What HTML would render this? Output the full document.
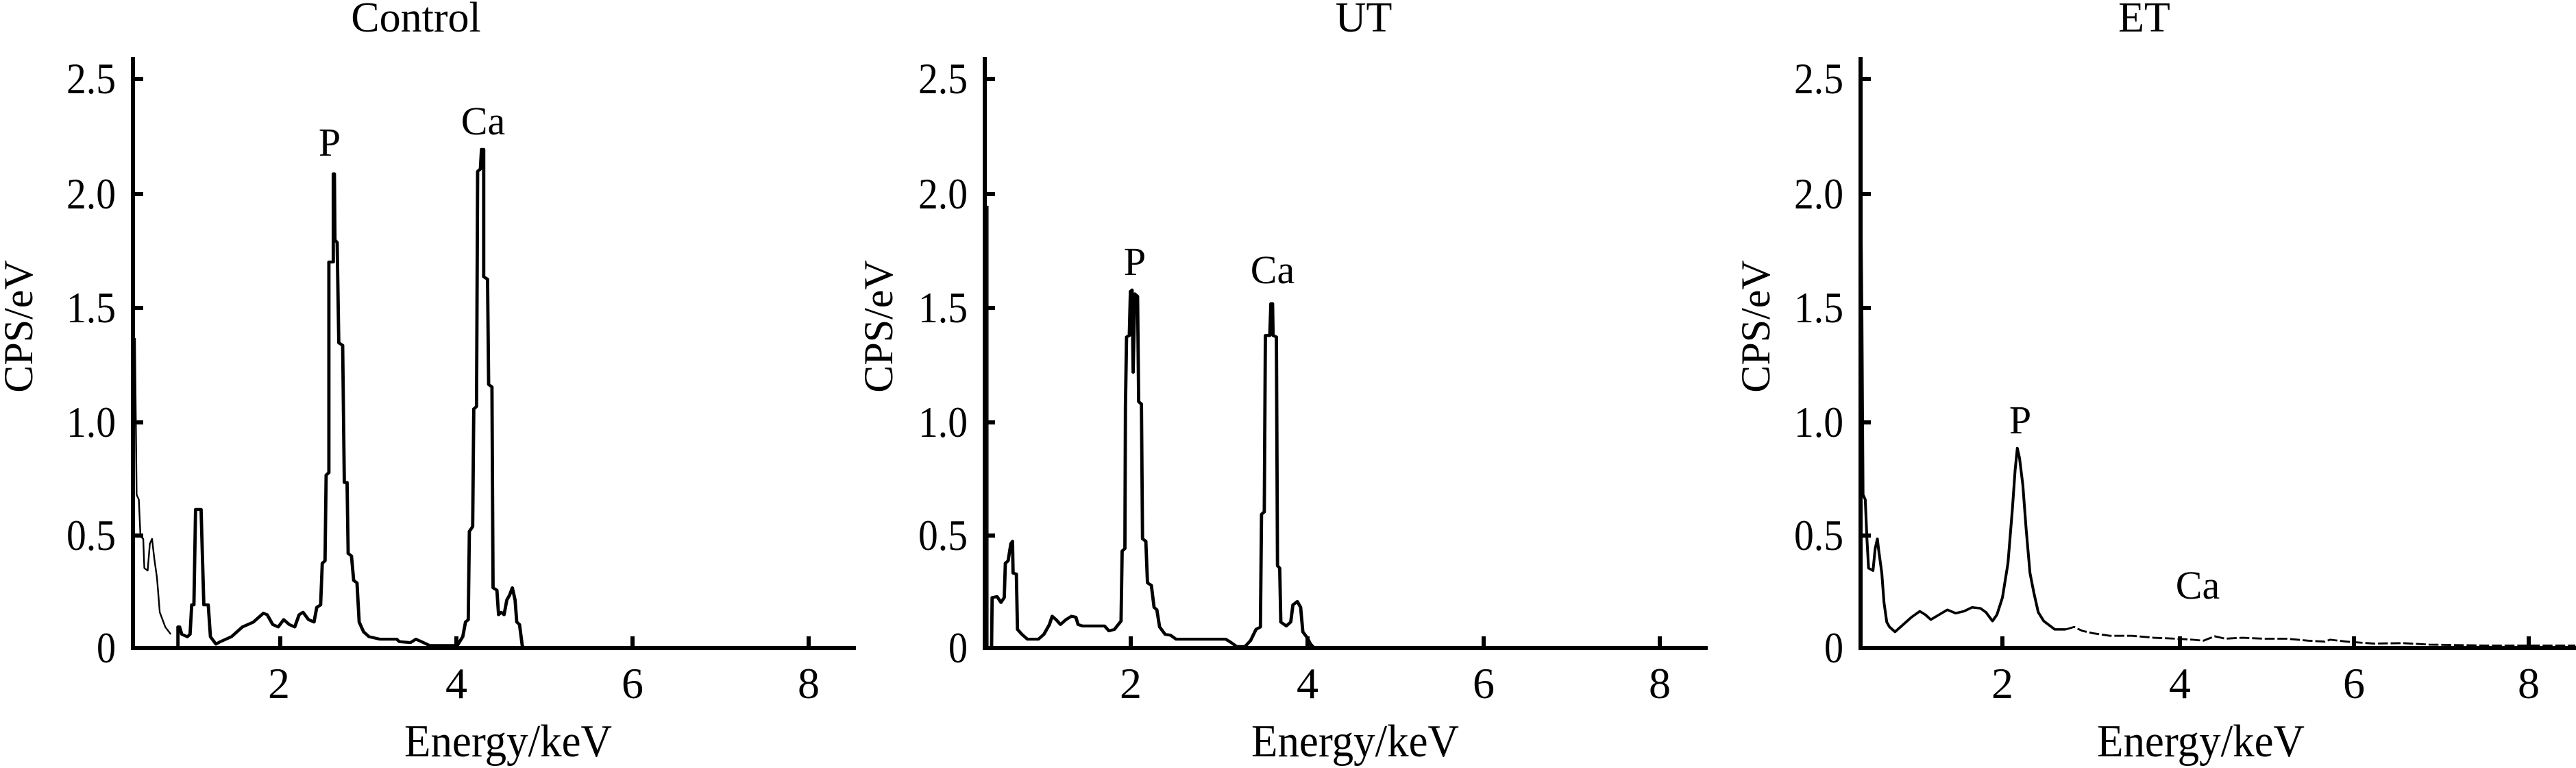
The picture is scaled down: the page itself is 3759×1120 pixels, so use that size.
<!DOCTYPE html>
<html><head><meta charset="utf-8"><style>
html,body{margin:0;padding:0;background:#fff;}
svg{display:block;}
text{font-family:"Liberation Serif",serif;fill:#000;}
</style></head><body>
<svg width="3759" height="1120" viewBox="0 0 3759 1120" xmlns="http://www.w3.org/2000/svg">

<!-- ============ CONTROL ============ -->
<g>
  <line x1="194" y1="83" x2="194" y2="948" stroke="#000" stroke-width="6"/>
  <line x1="191" y1="945" x2="1249" y2="945" stroke="#000" stroke-width="6"/>
  <g stroke="#000" stroke-width="6">
    <line x1="194" y1="115" x2="209" y2="115"/><line x1="194" y1="283" x2="209" y2="283"/>
    <line x1="194" y1="449" x2="209" y2="449"/><line x1="194" y1="616" x2="209" y2="616"/>
    <line x1="194" y1="781" x2="209" y2="781"/>
    <line x1="409" y1="945" x2="409" y2="928"/><line x1="666" y1="945" x2="666" y2="928"/>
    <line x1="923" y1="945" x2="923" y2="928"/><line x1="1180" y1="945" x2="1180" y2="928"/>
  </g>
  <g font-size="64">
    <text x="97" y="136" textLength="72" lengthAdjust="spacingAndGlyphs">2.5</text>
    <text x="97" y="304" textLength="72" lengthAdjust="spacingAndGlyphs">2.0</text>
    <text x="97" y="470" textLength="72" lengthAdjust="spacingAndGlyphs">1.5</text>
    <text x="97" y="637" textLength="72" lengthAdjust="spacingAndGlyphs">1.0</text>
    <text x="97" y="802" textLength="72" lengthAdjust="spacingAndGlyphs">0.5</text>
    <text x="141" y="966" textLength="28" lengthAdjust="spacingAndGlyphs">0</text>
  </g>
  <g font-size="64" text-anchor="middle">
    <text x="407" y="1018">2</text><text x="666" y="1018">4</text><text x="923" y="1018">6</text><text x="1180" y="1018">8</text>
  </g>
  <text x="607" y="46" font-size="62" text-anchor="middle">Control</text>
  <text x="590" y="1103" font-size="67" textLength="303" lengthAdjust="spacingAndGlyphs">Energy/keV</text>
  <text transform="translate(47,476) rotate(-90)" font-size="60" text-anchor="middle">CPS/eV</text>
  <text x="481" y="227" font-size="58" text-anchor="middle">P</text>
  <text x="705" y="196" font-size="58" text-anchor="middle">Ca</text>
  <g transform="scale(0.8039,0.7143)" fill="none" stroke="#000" stroke-linejoin="round">
    <path stroke-width="3" d="M245,690 L248,1010 252,1020 255,1095 260,1100 262,1160 268,1165 272,1110 276,1100 280,1140 285,1180 290,1250 300,1280 310,1295"/>
    <path stroke-width="6" d="M323,1320 L323,1280 326,1280 330,1295 340,1300 345,1295 348,1235 352,1235 355,1040 365,1040 370,1235 378,1235 382,1300 392,1315 400,1310 420,1300 440,1280 460,1270 478,1252 485,1255 495,1275 505,1280 515,1265 525,1275 535,1280 543,1255 550,1250 560,1265 570,1270 575,1240 582,1235 585,1150 590,1145 592,970 597,965 597,535 605,535 605,355 607,355 608,490 612,495 615,700 622,705 625,985 630,985 632,1130 638,1135 642,1185 648,1190 652,1270 660,1290 670,1300 690,1305 720,1305 725,1310 745,1312 755,1305 765,1310 780,1318 830,1318 840,1300 845,1270 850,1265 852,1085 858,1075 860,835 865,830 867,350 872,345 874,305 878,305 878,565 885,570 887,785 893,790 895,1200 902,1205 905,1255 910,1250 915,1255 920,1225 925,1215 930,1200 935,1225 938,1270 943,1275 948,1318 950,1322"/>
  </g>
</g>

<!-- ============ UT ============ -->
<g>
  <line x1="1437" y1="83" x2="1437" y2="948" stroke="#000" stroke-width="6"/>
  <line x1="1434" y1="945" x2="2492" y2="945" stroke="#000" stroke-width="6"/>
  <g stroke="#000" stroke-width="6">
    <line x1="1437" y1="115" x2="1452" y2="115"/><line x1="1437" y1="283" x2="1452" y2="283"/>
    <line x1="1437" y1="449" x2="1452" y2="449"/><line x1="1437" y1="616" x2="1452" y2="616"/>
    <line x1="1437" y1="781" x2="1452" y2="781"/>
    <line x1="1650" y1="945" x2="1650" y2="928"/><line x1="1908" y1="945" x2="1908" y2="928"/>
    <line x1="2165" y1="945" x2="2165" y2="928"/><line x1="2422" y1="945" x2="2422" y2="928"/>
  </g>
  <g font-size="64">
    <text x="1340" y="136" textLength="72" lengthAdjust="spacingAndGlyphs">2.5</text>
    <text x="1340" y="304" textLength="72" lengthAdjust="spacingAndGlyphs">2.0</text>
    <text x="1340" y="470" textLength="72" lengthAdjust="spacingAndGlyphs">1.5</text>
    <text x="1340" y="637" textLength="72" lengthAdjust="spacingAndGlyphs">1.0</text>
    <text x="1340" y="802" textLength="72" lengthAdjust="spacingAndGlyphs">0.5</text>
    <text x="1384" y="966" textLength="28" lengthAdjust="spacingAndGlyphs">0</text>
  </g>
  <g font-size="64" text-anchor="middle">
    <text x="1650" y="1018">2</text><text x="1908" y="1018">4</text><text x="2165" y="1018">6</text><text x="2422" y="1018">8</text>
  </g>
  <text x="1990" y="46" font-size="62" text-anchor="middle">UT</text>
  <text x="1826" y="1103" font-size="67" textLength="303" lengthAdjust="spacingAndGlyphs">Energy/keV</text>
  <text transform="translate(1302,476) rotate(-90)" font-size="60" text-anchor="middle">CPS/eV</text>
  <text x="1656" y="401" font-size="58" text-anchor="middle">P</text>
  <text x="1857" y="413" font-size="58" text-anchor="middle">Ca</text>
  <g transform="translate(1250,0) scale(0.8039,0.7143)" fill="none" stroke="#000" stroke-linejoin="round">
    <path stroke-width="3" d="M238,420 L238,1322"/>
    <path stroke-width="6" d="M245,1320 L246,1220 255,1218 262,1230 268,1220 270,1150 275,1145 280,1110 283,1105 284,1170 290,1172 292,1285 300,1295 310,1305 330,1305 340,1295 350,1275 355,1258 362,1265 370,1275 380,1265 390,1258 398,1260 402,1275 410,1278 450,1278 458,1288 468,1285 475,1275 480,1268 482,1125 487,1120 488,828 490,688 495,685 497,595 500,592 502,760 505,600 510,605 512,820 517,825 519,1100 525,1105 528,1190 535,1195 540,1240 545,1245 550,1280 560,1295 570,1297 580,1305 670,1305 680,1312 690,1320 705,1320 715,1308 725,1285 733,1280 735,1050 740,1045 742,685 750,685 752,620 755,620 756,685 762,688 764,1155 768,1160 770,1270 780,1278 788,1270 792,1235 800,1228 806,1240 810,1290 818,1302 824,1315 830,1322"/>
  </g>
</g>

<!-- ============ ET ============ -->
<g>
  <line x1="2715" y1="83" x2="2715" y2="948" stroke="#000" stroke-width="6"/>
  <line x1="2712" y1="945" x2="3759" y2="945" stroke="#000" stroke-width="6"/>
  <g stroke="#000" stroke-width="6">
    <line x1="2715" y1="115" x2="2730" y2="115"/><line x1="2715" y1="283" x2="2730" y2="283"/>
    <line x1="2715" y1="449" x2="2730" y2="449"/><line x1="2715" y1="616" x2="2730" y2="616"/>
    <line x1="2715" y1="781" x2="2730" y2="781"/>
    <line x1="2922" y1="945" x2="2922" y2="928"/><line x1="3181" y1="945" x2="3181" y2="928"/>
    <line x1="3435" y1="945" x2="3435" y2="928"/><line x1="3690" y1="945" x2="3690" y2="928"/>
  </g>
  <g font-size="64">
    <text x="2618" y="136" textLength="72" lengthAdjust="spacingAndGlyphs">2.5</text>
    <text x="2618" y="304" textLength="72" lengthAdjust="spacingAndGlyphs">2.0</text>
    <text x="2618" y="470" textLength="72" lengthAdjust="spacingAndGlyphs">1.5</text>
    <text x="2618" y="637" textLength="72" lengthAdjust="spacingAndGlyphs">1.0</text>
    <text x="2618" y="802" textLength="72" lengthAdjust="spacingAndGlyphs">0.5</text>
    <text x="2662" y="966" textLength="28" lengthAdjust="spacingAndGlyphs">0</text>
  </g>
  <g font-size="64" text-anchor="middle">
    <text x="2922" y="1018">2</text><text x="3181" y="1018">4</text><text x="3435" y="1018">6</text><text x="3690" y="1018">8</text>
  </g>
  <text x="3129" y="46" font-size="62" text-anchor="middle">ET</text>
  <text x="3060" y="1103" font-size="67" textLength="303" lengthAdjust="spacingAndGlyphs">Energy/keV</text>
  <text transform="translate(2582,476) rotate(-90)" font-size="60" text-anchor="middle">CPS/eV</text>
  <text x="2948" y="632" font-size="58" text-anchor="middle">P</text>
  <text x="3207" y="873" font-size="58" text-anchor="middle">Ca</text>
  <g transform="translate(2500,0) scale(0.8039,0.7143)" fill="none" stroke="#000" stroke-linejoin="round">
    <path stroke-width="5" d="M268,400 L270,650 272,1010 276,1020 279,1100 282,1160 290,1165 294,1120 298,1100 300,1120 306,1170 310,1230 315,1270 320,1280 330,1290 340,1280 360,1260 375,1248 385,1255 395,1265 410,1255 425,1245 440,1252 455,1248 470,1240 485,1242 495,1250 507,1268 515,1255 525,1220 535,1150 543,1040 548,960 552,915 556,935 562,990 568,1080 575,1170 582,1210 590,1250 600,1268 620,1285 640,1285"/>
    <path stroke-width="4" stroke-dasharray="18,5" d="M640,1285 L655,1280 670,1288 690,1293 720,1298 760,1298 800,1302 840,1304 870,1306 890,1308 910,1299 930,1304 960,1302 1000,1304 1040,1304 1080,1308 1110,1310 1120,1306 1150,1310 1200,1314 1250,1313 1300,1316 1400,1318 1500,1318 1565,1318"/>
  </g>
</g>
</svg>
</body></html>
